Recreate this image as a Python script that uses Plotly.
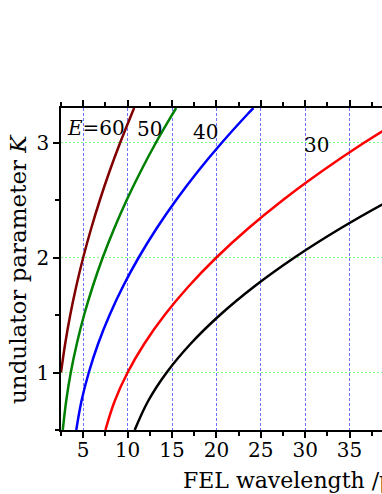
import plotly.graph_objects as go

# undulator parameter K sampled along each curve
K_60 = [1.0, 1.25, 1.5, 1.75, 2.0, 2.25, 2.5, 2.75, 3.0, 3.25, 3.3]
lam_60 = [2.5, 2.97, 3.54, 4.22, 5.0, 5.89, 6.88, 7.97, 9.17, 10.47, 10.74]

K_50 = [0.5, 0.75, 1.0, 1.25, 1.5, 1.75, 2.0, 2.25, 2.5, 2.75, 3.0, 3.25, 3.3]
lam_50 = [2.7, 3.08, 3.6, 4.28, 5.1, 6.08, 7.2, 8.48, 9.9, 11.48, 13.2, 15.08, 15.47]

K_40 = [0.5, 0.75, 1.0, 1.25, 1.5, 1.75, 2.0, 2.25, 2.5, 2.75, 3.0, 3.25, 3.3]
lam_40 = [4.22, 4.8, 5.63, 6.68, 7.97, 9.49, 11.25, 13.24, 15.47, 17.93, 20.63, 23.55, 24.17]

K_30 = [0.5, 0.75, 1.0, 1.25, 1.5, 1.75, 2.0, 2.25, 2.5, 2.75, 3.0, 3.25]
lam_30 = [7.5, 8.54, 10.0, 11.88, 14.17, 16.88, 20.0, 23.54, 27.5, 31.88, 36.67, 41.9]

K_25 = [0.5, 0.75, 1.0, 1.25, 1.5, 1.75, 2.0, 2.25, 2.5, 2.75]
lam_25 = [10.8, 12.3, 14.4, 17.1, 20.4, 24.3, 28.8, 33.9, 39.6, 45.9]

curves = [
    (lam_60, K_60, "#800000"),
    (lam_50, K_50, "#008000"),
    (lam_40, K_40, "#0000ff"),
    (lam_30, K_30, "#ff0000"),
    (lam_25, K_25, "#000000"),
]

# energy labels: (text, x, y)
labels = [
    ("<i>E</i>=60", 2.95, 3.125, "left"),
    ("50", 12.5, 3.115, "center"),
    ("40", 18.8, 3.09, "center"),
    ("30", 31.3, 2.975, "center"),
]

FONT = "DejaVu Serif"

fig = go.Figure()
for lam, K, col in curves:
    fig.add_trace(go.Scatter(x=lam, y=K, mode="lines",
                             line=dict(color=col, width=2.5, shape="spline"),
                             showlegend=False))

for txt, x, y, anc in labels:
    fig.add_annotation(x=x, y=y, text=txt, showarrow=False, xanchor=anc,
                       yanchor="middle", font=dict(family=FONT, size=20, color="black"))

fig.add_annotation(x=16.0, y=0, yref="paper", xanchor="left", yanchor="middle",
                   yshift=-50, showarrow=False, text="FEL wavelength /μm",
                   font=dict(family=FONT, size=22, color="black"))
fig.add_annotation(x=0, xref="paper", y=0.5, yref="paper", xshift=-43,
                   xanchor="center", yanchor="middle",
                   textangle=-90, showarrow=False, text="undulator parameter <i>K</i>",
                   font=dict(family=FONT, size=23, color="black"))

fig.update_xaxes(range=[2.5, 38.65], tick0=0, dtick=5, ticks="outside", ticklen=6,
                 tickwidth=1.5, tickcolor="black", ticklabelstandoff=-5,
                 minor=dict(dtick=2.5, tick0=0, ticks="outside", ticklen=4,
                            tickcolor="black", showgrid=False),
                 showline=True, linecolor="black", linewidth=1.5, mirror="ticks",
                 showgrid=True, gridcolor="#7070ff", griddash="3px,2px",
                 gridwidth=1, zeroline=False,
                 tickfont=dict(family=FONT, size=20, color="black"))
fig.update_yaxes(range=[0.5, 3.3], tick0=0, dtick=1, ticks="outside", ticklen=6,
                 tickwidth=1.5, tickcolor="black",
                 minor=dict(dtick=0.5, tick0=0, ticks="outside", ticklen=4,
                            tickcolor="black", showgrid=False),
                 showline=True, linecolor="black", linewidth=1.5,
                 showgrid=True, gridcolor="#80ff80", griddash="2px,2px",
                 gridwidth=1, zeroline=False,
                 tickfont=dict(family=FONT, size=20, color="black"))

fig.update_layout(width=382, height=494, plot_bgcolor="white", paper_bgcolor="white",
                  margin=dict(l=61, r=0, t=108, b=64))

fig.write_html("out.html", config={"displayModeBar": False},
               post_script="document.body.style.margin='0';")
